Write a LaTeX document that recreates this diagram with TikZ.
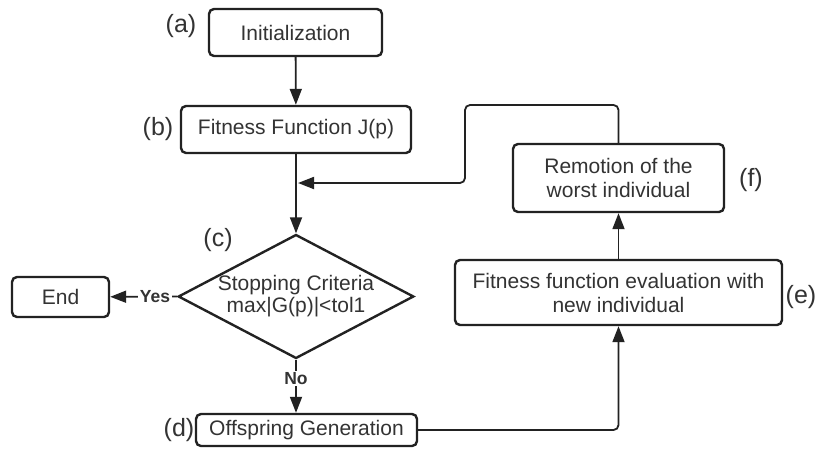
\documentclass[tikz,border=0pt]{standalone}
\usepackage{fontspec}
\setmainfont{Liberation Sans}
\usetikzlibrary{shapes.geometric,arrows.meta}
\definecolor{ink}{HTML}{222222}
\definecolor{txt}{HTML}{333333}
\begin{document}
\begin{tikzpicture}[x=1pt,y=-1pt,
  box/.style={draw=ink,line width=2.4pt,rounded corners=5pt,inner sep=0pt,text=txt,
    font=\fontsize{21}{24}\selectfont,align=center},
  lbl/.style={text=txt,font=\fontsize{25}{28}\selectfont,inner sep=0pt},
  yn/.style={text=txt,font=\fontsize{17.5}{19}\selectfont\bfseries,fill=white,inner sep=1.5pt},
  conn/.style={draw=ink,line width=1.8pt,-{Triangle[length=16pt,width=12pt]}}]
\useasboundingbox (0,0) rectangle (818,455);
\fill[white] (0,0) rectangle (818,455);
% nodes
\node[box,minimum width=173pt,minimum height=47pt] (init) at (295.5,32.5) {Initialization};
\node[box,minimum width=230pt,minimum height=47pt] (fit) at (296,129.5) {Fitness Function J(p)};
\node[draw=ink,line width=2.4pt,shape=diamond,aspect=1.9,minimum width=232pt,minimum height=123pt,
  inner sep=0pt,text=txt,font=\fontsize{21}{22}\selectfont,align=center] (dia) at (296,296.5)
  {Stopping Criteria\\max|G(p)|<tol1};
\node[box,minimum width=97pt,minimum height=40pt] (end) at (60.5,297) {End};
\node[box,minimum width=221pt,minimum height=32pt] (off) at (306.5,430) {Offspring Generation};
\node[box,minimum width=327pt,minimum height=65pt] (eval) at (618.5,292.5) {Fitness function evaluation with\\new individual};
\node[box,minimum width=211pt,minimum height=68pt] (rem) at (618.5,178) {Remotion of the\\worst individual};
% labels
\node[lbl] (la) at (181,26) {(a)};
\node[lbl] (lb) at (158,129) {(b)};
\node[lbl] (lc) at (218,240) {(c)};
\node[lbl] (ld) at (179,430) {(d)};
\node[lbl] (le) at (801,297) {(e)};
\node[lbl] (lf) at (751,180) {(f)};
% connectors
\draw[conn] (init) -- (fit);
\draw[conn] (fit) -- (dia);
\draw[conn] (dia.west) -- node[yn,pos=0.33] {Yes} (end);
\draw[conn] (dia.south) -- node[yn,pos=0.35] {No} (dia.south |- off.north);
\draw[conn,rounded corners=5pt] (off.east) -| (eval.south);
\draw[conn] (eval) -- (rem);
\coordinate (join) at (298,183);
\draw[conn,rounded corners=5pt] (rem.north) -- (618.5,105) -- (465,105) -- (465,183) -- (join);
\end{tikzpicture}
\end{document}
